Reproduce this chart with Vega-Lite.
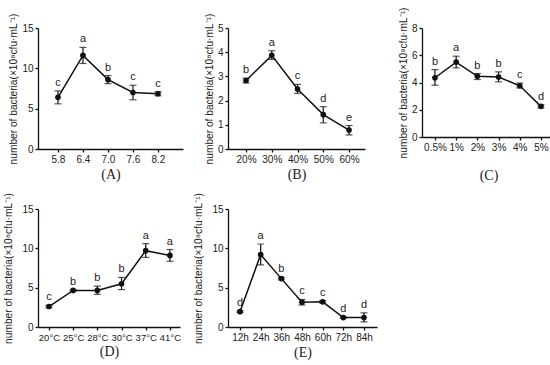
{
  "$schema": "https://vega.github.io/schema/vega-lite/v6.json",
  "background": "white",
  "padding": {"left": 3, "top": 7, "right": 2, "bottom": 2},
  "config": {
    "view": {"stroke": null},
    "font": "Liberation Sans",
    "axis": {
      "grid": false,
      "domainColor": "#111",
      "domainWidth": 1.3,
      "tickColor": "#111",
      "tickWidth": 1.3,
      "tickSize": 3,
      "labelPadding": 2,
      "labelColor": "#222",
      "labelFont": "Liberation Sans",
      "labelFontSize": 10,
      "labelOverlap": false,
      "labelBound": false,
      "labelSeparation": -40,
      "titleColor": "#222",
      "titleFontWeight": "normal"
    },
    "axisX": {"labelAngle": 0, "titleFont": "Liberation Serif", "titleFontSize": 14, "titlePadding": 3},
    "axisY": {"titleFont": "Liberation Sans", "titleFontSize": 10.2, "labelOverlap": false, "labelSeparation": -40},
    "text": {"font": "Liberation Sans", "fontSize": 11, "color": "#222"}
  },
  "datasets": {
    "A": [
      {"x": "5.8", "v": 6.4, "lo": 5.6, "hi": 7.2, "g": "c"},
      {"x": "6.4", "v": 11.6, "lo": 10.6, "hi": 12.6, "g": "a"},
      {"x": "7.0", "v": 8.6, "lo": 8.1, "hi": 9.1, "g": "b"},
      {"x": "7.6", "v": 7.0, "lo": 6.1, "hi": 7.9, "g": "c"},
      {"x": "8.2", "v": 6.85, "lo": 6.6, "hi": 7.1, "g": "c"}
    ],
    "B": [
      {"x": "20%", "v": 2.83, "lo": 2.73, "hi": 2.93, "g": "b"},
      {"x": "30%", "v": 3.87, "lo": 3.7, "hi": 4.06, "g": "a"},
      {"x": "40%", "v": 2.48, "lo": 2.3, "hi": 2.67, "g": "c"},
      {"x": "50%", "v": 1.42, "lo": 1.08, "hi": 1.75, "g": "d"},
      {"x": "60%", "v": 0.78, "lo": 0.58, "hi": 0.97, "g": "e"}
    ],
    "C": [
      {"x": "0.5%", "v": 4.35, "lo": 3.8, "hi": 4.95, "g": "b"},
      {"x": "1%", "v": 5.5, "lo": 5.07, "hi": 5.93, "g": "a"},
      {"x": "2%", "v": 4.45, "lo": 4.22, "hi": 4.66, "g": "b"},
      {"x": "3%", "v": 4.4, "lo": 4.05, "hi": 4.78, "g": "b"},
      {"x": "4%", "v": 3.76, "lo": 3.6, "hi": 3.96, "g": "c"},
      {"x": "5%", "v": 2.25, "lo": 2.13, "hi": 2.37, "g": "d"}
    ],
    "D": [
      {"x": "20°C", "v": 2.6, "lo": 2.45, "hi": 2.75, "g": "c"},
      {"x": "25°C", "v": 4.65, "lo": 4.55, "hi": 4.75, "g": "b"},
      {"x": "28°C", "v": 4.65, "lo": 4.15, "hi": 5.2, "g": "b"},
      {"x": "30°C", "v": 5.5, "lo": 4.75, "hi": 6.3, "g": "b"},
      {"x": "37°C", "v": 9.7, "lo": 8.85, "hi": 10.6, "g": "a"},
      {"x": "41°C", "v": 9.1, "lo": 8.35, "hi": 9.85, "g": "a"}
    ],
    "E": [
      {"x": "12h", "v": 1.95, "lo": 1.85, "hi": 2.05, "g": "d"},
      {"x": "24h", "v": 9.2, "lo": 7.9, "hi": 10.55, "g": "a"},
      {"x": "36h", "v": 6.15, "lo": 6.0, "hi": 6.3, "g": "b"},
      {"x": "48h", "v": 3.15, "lo": 2.8, "hi": 3.5, "g": "c"},
      {"x": "60h", "v": 3.2, "lo": 3.05, "hi": 3.35, "g": "c"},
      {"x": "72h", "v": 1.2, "lo": 1.1, "hi": 1.3, "g": "d"},
      {"x": "84h", "v": 1.2, "lo": 0.65, "hi": 1.8, "g": "d"}
    ]
  },
  "bounds": "flush",
  "align": "none",
  "center": {"row": true, "column": false},
  "columns": 3,
  "spacing": {"row": 60, "column": 45},
  "concat": [
    {
      "data": {"name": "A"},
      "width": 145,
      "height": 121,
      "encoding": {
        "x": {"field": "x", "type": "ordinal", "sort": null, "scale": {"type": "point", "padding": 0.9, "align": 0.444}, "axis": {"title": "(A)"}}
      },
      "layer": [
        {"mark": {"type": "line", "color": "#111", "strokeWidth": 1.5}, "encoding": {"y": {"field": "v", "type": "quantitative", "scale": {"domain": [0, 15]}, "axis": {"values": [0, 5, 10, 15], "titlePadding": 3, "labelOverlap": false}, "title": "number of bacteria(×10⁸cfu·mL⁻¹)"}}},
        {"mark": {"type": "errorbar", "ticks": true, "size": 7, "thickness": 1.2, "color": "#111"}, "encoding": {"y": {"field": "lo", "type": "quantitative", "scale": {"domain": [0, 15]}, "axis": {"values": [0, 5, 10, 15], "titlePadding": 3, "labelOverlap": false}, "title": "number of bacteria(×10⁸cfu·mL⁻¹)"}, "y2": {"field": "hi"}}},
        {"mark": {"type": "point", "shape": "circle", "filled": true, "size": 32, "color": "#111", "opacity": 1}, "encoding": {"y": {"field": "v", "type": "quantitative", "scale": {"domain": [0, 15]}, "axis": {"values": [0, 5, 10, 15], "titlePadding": 3, "labelOverlap": false}, "title": "number of bacteria(×10⁸cfu·mL⁻¹)"}}},
        {"mark": {"type": "text", "baseline": "alphabetic", "dy": -5, "color": "#222"}, "encoding": {"y": {"field": "hi", "type": "quantitative", "scale": {"domain": [0, 15]}, "axis": {"values": [0, 5, 10, 15], "titlePadding": 3, "labelOverlap": false}, "title": "number of bacteria(×10⁸cfu·mL⁻¹)"}, "text": {"field": "g"}}}
      ]
    },
    {
      "data": {"name": "B"},
      "width": 137,
      "height": 121,
      "encoding": {
        "x": {"field": "x", "type": "ordinal", "sort": null, "scale": {"type": "point", "padding": 0.66, "align": 0.53}, "axis": {"title": "(B)"}}
      },
      "layer": [
        {"mark": {"type": "line", "color": "#111", "strokeWidth": 1.5}, "encoding": {"y": {"field": "v", "type": "quantitative", "scale": {"domain": [0, 5]}, "axis": {"values": [0, 1, 2, 3, 4, 5], "titlePadding": 3, "labelOverlap": false}, "title": "number of bacteria(×10⁸cfu·mL⁻¹)"}}},
        {"mark": {"type": "errorbar", "ticks": true, "size": 7, "thickness": 1.2, "color": "#111"}, "encoding": {"y": {"field": "lo", "type": "quantitative", "scale": {"domain": [0, 5]}, "axis": {"values": [0, 1, 2, 3, 4, 5], "titlePadding": 3, "labelOverlap": false}, "title": "number of bacteria(×10⁸cfu·mL⁻¹)"}, "y2": {"field": "hi"}}},
        {"mark": {"type": "point", "shape": "circle", "filled": true, "size": 32, "color": "#111", "opacity": 1}, "encoding": {"y": {"field": "v", "type": "quantitative", "scale": {"domain": [0, 5]}, "axis": {"values": [0, 1, 2, 3, 4, 5], "titlePadding": 3, "labelOverlap": false}, "title": "number of bacteria(×10⁸cfu·mL⁻¹)"}}},
        {"mark": {"type": "text", "baseline": "alphabetic", "dy": -5, "color": "#222"}, "encoding": {"y": {"field": "hi", "type": "quantitative", "scale": {"domain": [0, 5]}, "axis": {"values": [0, 1, 2, 3, 4, 5], "titlePadding": 3, "labelOverlap": false}, "title": "number of bacteria(×10⁸cfu·mL⁻¹)"}, "text": {"field": "g"}}}
      ]
    },
    {
      "data": {"name": "C"},
      "width": 133,
      "height": 109,
      "encoding": {
        "x": {"field": "x", "type": "ordinal", "sort": null, "scale": {"type": "point", "padding": 0.637, "align": 0.48}, "axis": {"title": "(C)", "titlePadding": 16}}
      },
      "layer": [
        {"mark": {"type": "line", "color": "#111", "strokeWidth": 1.5}, "encoding": {"y": {"field": "v", "type": "quantitative", "scale": {"domain": [0, 8]}, "axis": {"values": [0, 2, 4, 6, 8], "titlePadding": 3, "labelOverlap": false}, "title": "number of bacteria(×10⁸cfu·mL⁻¹)"}}},
        {"mark": {"type": "errorbar", "ticks": true, "size": 7, "thickness": 1.2, "color": "#111"}, "encoding": {"y": {"field": "lo", "type": "quantitative", "scale": {"domain": [0, 8]}, "axis": {"values": [0, 2, 4, 6, 8], "titlePadding": 3, "labelOverlap": false}, "title": "number of bacteria(×10⁸cfu·mL⁻¹)"}, "y2": {"field": "hi"}}},
        {"mark": {"type": "point", "shape": "circle", "filled": true, "size": 32, "color": "#111", "opacity": 1}, "encoding": {"y": {"field": "v", "type": "quantitative", "scale": {"domain": [0, 8]}, "axis": {"values": [0, 2, 4, 6, 8], "titlePadding": 3, "labelOverlap": false}, "title": "number of bacteria(×10⁸cfu·mL⁻¹)"}}},
        {"mark": {"type": "text", "baseline": "alphabetic", "dy": -5, "color": "#222"}, "encoding": {"y": {"field": "hi", "type": "quantitative", "scale": {"domain": [0, 8]}, "axis": {"values": [0, 2, 4, 6, 8], "titlePadding": 3, "labelOverlap": false}, "title": "number of bacteria(×10⁸cfu·mL⁻¹)"}, "text": {"field": "g"}}}
      ]
    },
    {
      "data": {"name": "D"},
      "width": 142,
      "height": 118,
      "encoding": {
        "x": {"field": "x", "type": "ordinal", "sort": null, "scale": {"type": "point", "padding": 0.434, "align": 0.52}, "axis": {"title": "(D)", "labelFontSize": 9.5}}
      },
      "layer": [
        {"mark": {"type": "line", "color": "#111", "strokeWidth": 1.5}, "encoding": {"y": {"field": "v", "type": "quantitative", "scale": {"domain": [0, 15]}, "axis": {"values": [0, 5, 10, 15], "titlePadding": 8, "labelOverlap": false}, "title": "number of bacteria(×10⁸cfu·mL⁻¹)"}}},
        {"mark": {"type": "errorbar", "ticks": true, "size": 7, "thickness": 1.2, "color": "#111"}, "encoding": {"y": {"field": "lo", "type": "quantitative", "scale": {"domain": [0, 15]}, "axis": {"values": [0, 5, 10, 15], "titlePadding": 8, "labelOverlap": false}, "title": "number of bacteria(×10⁸cfu·mL⁻¹)"}, "y2": {"field": "hi"}}},
        {"mark": {"type": "point", "shape": "circle", "filled": true, "size": 32, "color": "#111", "opacity": 1}, "encoding": {"y": {"field": "v", "type": "quantitative", "scale": {"domain": [0, 15]}, "axis": {"values": [0, 5, 10, 15], "titlePadding": 8, "labelOverlap": false}, "title": "number of bacteria(×10⁸cfu·mL⁻¹)"}}},
        {"mark": {"type": "text", "baseline": "alphabetic", "dy": -5, "color": "#222"}, "encoding": {"y": {"field": "hi", "type": "quantitative", "scale": {"domain": [0, 15]}, "axis": {"values": [0, 5, 10, 15], "titlePadding": 8, "labelOverlap": false}, "title": "number of bacteria(×10⁸cfu·mL⁻¹)"}, "text": {"field": "g"}}}
      ]
    },
    {
      "data": {"name": "E"},
      "width": 149,
      "height": 118,
      "encoding": {
        "x": {"field": "x", "type": "ordinal", "sort": null, "scale": {"type": "point", "padding": 0.605, "align": 0.48}, "axis": {"title": "(E)"}}
      },
      "layer": [
        {"mark": {"type": "line", "color": "#111", "strokeWidth": 1.5}, "encoding": {"y": {"field": "v", "type": "quantitative", "scale": {"domain": [0, 15]}, "axis": {"values": [0, 5, 10, 15], "titlePadding": 8, "labelOverlap": false}, "title": "number of bacteria(×10⁸cfu·mL⁻¹)"}}},
        {"mark": {"type": "errorbar", "ticks": true, "size": 7, "thickness": 1.2, "color": "#111"}, "encoding": {"y": {"field": "lo", "type": "quantitative", "scale": {"domain": [0, 15]}, "axis": {"values": [0, 5, 10, 15], "titlePadding": 8, "labelOverlap": false}, "title": "number of bacteria(×10⁸cfu·mL⁻¹)"}, "y2": {"field": "hi"}}},
        {"mark": {"type": "point", "shape": "circle", "filled": true, "size": 32, "color": "#111", "opacity": 1}, "encoding": {"y": {"field": "v", "type": "quantitative", "scale": {"domain": [0, 15]}, "axis": {"values": [0, 5, 10, 15], "titlePadding": 8, "labelOverlap": false}, "title": "number of bacteria(×10⁸cfu·mL⁻¹)"}}},
        {"mark": {"type": "text", "baseline": "alphabetic", "dy": -5, "color": "#222"}, "encoding": {"y": {"field": "hi", "type": "quantitative", "scale": {"domain": [0, 15]}, "axis": {"values": [0, 5, 10, 15], "titlePadding": 8, "labelOverlap": false}, "title": "number of bacteria(×10⁸cfu·mL⁻¹)"}, "text": {"field": "g"}}}
      ]
    }
  ]
}
